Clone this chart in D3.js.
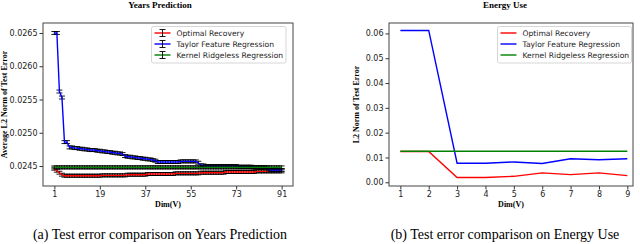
<!DOCTYPE html>
<html>
<head>
<meta charset="utf-8">
<script src="https://cdn.jsdelivr.net/npm/d3@7"></script>
<style>
  body { margin: 0; background: #fff; }
  svg { display: block; }
  .tick text { font-family: "DejaVu Sans", sans-serif; font-size: 8px; fill: #222; }
  .tick line { stroke: #333; }
</style>
</head>
<body>
<div id="chart"></div>
<script>
// ---- data: Years Prediction (dims 1..91) ----
const yearsDims = d3.range(1, 92);
const yearsRecovery = [
  0.02446, 0.02443, 0.02440, 0.02437, 0.024355, 0.024355, 0.024355, 0.024355, 0.024355, 0.024355,
  0.024355, 0.024355, 0.024355, 0.024355, 0.024355, 0.024355, 0.024355, 0.024355, 0.024355, 0.02436,
  0.02436, 0.02436, 0.02436, 0.02436, 0.02436, 0.02436, 0.02436, 0.02436, 0.02436, 0.02437,
  0.02437, 0.02437, 0.02437, 0.02437, 0.02437, 0.02437, 0.02437, 0.02438, 0.02438, 0.02438,
  0.02438, 0.02438, 0.02438, 0.02438, 0.02438, 0.02438, 0.02438, 0.02438, 0.02439, 0.02439,
  0.02439, 0.02439, 0.02439, 0.02439, 0.02439, 0.02439, 0.02439, 0.02439, 0.02440, 0.02440,
  0.02440, 0.02440, 0.02440, 0.02440, 0.02440, 0.02440, 0.02440, 0.02440, 0.02441, 0.02441,
  0.02441, 0.02441, 0.02441, 0.02441, 0.02441, 0.02441, 0.02441, 0.02441, 0.02441, 0.02441,
  0.02442, 0.02442, 0.02442, 0.02442, 0.02442, 0.02442, 0.02442, 0.02442, 0.02442, 0.02442,
  0.02442
];
const yearsTaylor = [
  0.02650, 0.02650, 0.02562, 0.02553, 0.02486, 0.02486, 0.02478, 0.02478, 0.02477, 0.02477,
  0.02476, 0.02476, 0.02475, 0.02475, 0.02474, 0.02474, 0.02474, 0.02473, 0.02473, 0.02472,
  0.02472, 0.02471, 0.02471, 0.02470, 0.02470, 0.02469, 0.02469, 0.02468, 0.02465, 0.02464,
  0.02464, 0.02463, 0.02463, 0.02462, 0.02462, 0.02461, 0.02461, 0.02460, 0.02460, 0.02459,
  0.02458, 0.02456, 0.02456, 0.02456, 0.02456, 0.02456, 0.02456, 0.02456, 0.02456, 0.02456,
  0.02457, 0.02457, 0.02457, 0.02457, 0.02457, 0.02457, 0.02457, 0.02455, 0.02451, 0.02451,
  0.02450, 0.02450, 0.02450, 0.02450, 0.02450, 0.02450, 0.02450, 0.02450, 0.02450, 0.02450,
  0.02450, 0.02450, 0.02450, 0.02449, 0.02449, 0.02449, 0.02449, 0.02449, 0.02449, 0.02448,
  0.02448, 0.02448, 0.02448, 0.02448, 0.02448, 0.02445, 0.02444, 0.02444, 0.02444, 0.02444,
  0.02444
];
const yearsKernel = [
  0.02448, 0.02448, 0.02448, 0.02448, 0.02448, 0.02448, 0.02448, 0.02448, 0.02448, 0.02448,
  0.02448, 0.02448, 0.02448, 0.02448, 0.02448, 0.02448, 0.02448, 0.02448, 0.02448, 0.02448,
  0.02448, 0.02448, 0.02448, 0.02448, 0.02448, 0.02448, 0.02448, 0.02448, 0.02448, 0.02448,
  0.02448, 0.02448, 0.02448, 0.02448, 0.02448, 0.02448, 0.02448, 0.02448, 0.02448, 0.02448,
  0.02448, 0.02448, 0.02448, 0.02448, 0.02448, 0.02448, 0.02448, 0.02448, 0.02448, 0.02448,
  0.02448, 0.02448, 0.02448, 0.02448, 0.02448, 0.02448, 0.02448, 0.02448, 0.02448, 0.02448,
  0.02448, 0.02448, 0.02448, 0.02448, 0.02448, 0.02448, 0.02448, 0.02448, 0.02448, 0.02448,
  0.02448, 0.02448, 0.02448, 0.02448, 0.02448, 0.02448, 0.02448, 0.02448, 0.02448, 0.02448,
  0.02448, 0.02448, 0.02448, 0.02448, 0.02448, 0.02448, 0.02448, 0.02448, 0.02448, 0.02448,
  0.02448
];
const yearsErr = 0.000022;   // half height of the error bars
const yearsYTicks = [0.0245, 0.0250, 0.0255, 0.0260, 0.0265];
const yearsXTicks = [1, 19, 37, 55, 73, 91];

// ---- data: Energy Use (dims 1..9) ----
const energyDims = [1, 2, 3, 4, 5, 6, 7, 8, 9];
const energyRecovery = [0.0124, 0.0124, 0.0019, 0.0019, 0.0024, 0.0038, 0.0031, 0.0038, 0.0027];
const energyTaylor = [0.0612, 0.0612, 0.0077, 0.0077, 0.0082, 0.0076, 0.0095, 0.0091, 0.0095];
const energyKernel = [0.0125, 0.0125, 0.0125, 0.0125, 0.0125, 0.0125, 0.0125, 0.0125, 0.0125];
const energyYTicks = [0.00, 0.01, 0.02, 0.03, 0.04, 0.05, 0.06];

const seriesNames = ["Optimal Recovery", "Taylor Feature Regression", "Kernel Ridgeless Regression"];
const seriesColors = ["#ff0000", "#0000ff", "#008000"];

const width = 640, height = 244;
const svg = d3.select("#chart").append("svg")
    .attr("width", width)
    .attr("height", height);

function drawPanel(p) {
    const x = d3.scaleLinear().domain(p.xDomain).range([p.left, p.right]);
    const y = d3.scaleLinear().domain(p.yDomain).range([p.bottom, p.top]);
    const g = svg.append("g");

    // axes
    g.append("g")
        .attr("transform", `translate(0,${p.bottom})`)
        .call(d3.axisBottom(x).tickValues(p.xTicks).tickSize(3.5).tickPadding(2).tickSizeOuter(0))
        .call(a => a.select(".domain").remove());
    g.append("g")
        .attr("transform", `translate(${p.left},0)`)
        .call(d3.axisLeft(y).tickValues(p.yTicks).tickFormat(d3.format(p.yFormat))
            .tickSize(3.5).tickPadding(2).tickSizeOuter(0))
        .call(a => a.select(".domain").remove());

    // series
    const line = d3.line().x((d, i) => x(p.dims[i])).y(d => y(d));
    p.series.forEach((vals, s) => {
        if (p.err) {
            const eb = g.append("g").attr("stroke", "#000").attr("stroke-width", 0.9);
            vals.forEach((v, i) => {
                const cx = x(p.dims[i]);
                eb.append("line").attr("x1", cx).attr("x2", cx)
                    .attr("y1", y(v - p.err)).attr("y2", y(v + p.err));
                [v - p.err, v + p.err].forEach(e => {
                    eb.append("line").attr("x1", cx - 3).attr("x2", cx + 3)
                        .attr("y1", y(e)).attr("y2", y(e));
                });
            });
        }
        g.append("path")
            .datum(vals)
            .attr("fill", "none")
            .attr("stroke", seriesColors[s])
            .attr("stroke-width", 1.4)
            .attr("d", line);
    });

    // frame
    g.append("rect")
        .attr("x", p.left).attr("y", p.top)
        .attr("width", p.right - p.left).attr("height", p.bottom - p.top)
        .attr("fill", "none").attr("stroke", "#444").attr("stroke-width", 1);

    // legend
    const lg = g.append("g").attr("transform", `translate(${p.legX},${p.legY})`);
    lg.append("rect")
        .attr("width", p.legW).attr("height", 36.5)
        .attr("rx", 2)
        .attr("fill", "#fff").attr("stroke", "#ccc").attr("stroke-width", 0.8);
    seriesNames.forEach((name, i) => {
        const ly = 6.5 + i * 11;
        lg.append("line")
            .attr("x1", 3).attr("x2", 19).attr("y1", ly).attr("y2", ly)
            .attr("stroke", seriesColors[i]).attr("stroke-width", 1.4);
        if (p.err) {
            const eg = lg.append("g").attr("stroke", "#000").attr("stroke-width", 0.9);
            eg.append("line").attr("x1", 11).attr("x2", 11).attr("y1", ly - 3.5).attr("y2", ly + 3.5);
            eg.append("line").attr("x1", 8).attr("x2", 14).attr("y1", ly - 3.5).attr("y2", ly - 3.5);
            eg.append("line").attr("x1", 8).attr("x2", 14).attr("y1", ly + 3.5).attr("y2", ly + 3.5);
        }
        lg.append("text")
            .attr("x", 25).attr("y", ly + 3)
            .style("font-family", "DejaVu Sans, sans-serif")
            .style("font-size", "7.6px")
            .attr("fill", "#222")
            .text(name);
    });

    // title
    svg.append("text")
        .attr("x", p.titleX).attr("y", 8)
        .attr("text-anchor", "middle")
        .style("font-family", "Liberation Serif, serif")
        .style("font-weight", "bold")
        .style("font-size", "9px")
        .text(p.title);

    // axis labels
    svg.append("text")
        .attr("x", (p.left + p.right) / 2).attr("y", 207)
        .attr("text-anchor", "middle")
        .style("font-family", "Liberation Serif, serif")
        .style("font-weight", "bold")
        .style("font-size", "8px")
        .text("Dim(V)");
    svg.append("text")
        .attr("transform", `translate(${p.yLabelX},${(p.top + p.bottom) / 2}) rotate(-90)`)
        .attr("text-anchor", "middle")
        .style("font-family", "Liberation Serif, serif")
        .style("font-weight", "bold")
        .style("font-size", "8px")
        .text(p.yLabel);

    // caption
    svg.append("text")
        .attr("x", p.capX).attr("y", 239)
        .attr("text-anchor", "middle")
        .style("font-family", "Liberation Serif, serif")
        .style("font-size", "14px")
        .text(p.caption);
}

drawPanel({
    left: 43, right: 293, top: 23, bottom: 186,
    xDomain: [-3.5, 95.5], yDomain: [0.0242, 0.02665],
    xTicks: yearsXTicks, yTicks: yearsYTicks, yFormat: ".4f",
    dims: yearsDims, series: [yearsRecovery, yearsTaylor, yearsKernel], err: yearsErr,
    legX: 151.5, legY: 26.5, legW: 134.5,
    title: "Years Prediction", titleX: 160,
    yLabel: "Average L2 Norm of Test Error", yLabelX: 7,
    caption: "(a) Test error comparison on Years Prediction", capX: 160
});

drawPanel({
    left: 389, right: 633, top: 23, bottom: 186,
    xDomain: [0.6, 9.2], yDomain: [-0.0015, 0.0642],
    xTicks: energyDims, yTicks: energyYTicks, yFormat: ".2f",
    dims: energyDims, series: [energyRecovery, energyTaylor, energyKernel], err: 0,
    legX: 497.5, legY: 26.5, legW: 134,
    title: "Energy Use", titleX: 505,
    yLabel: "L2 Norm of Test Error", yLabelX: 359,
    caption: "(b) Test error comparison on Energy Use", capX: 505
});
</script>
</body>
</html>
